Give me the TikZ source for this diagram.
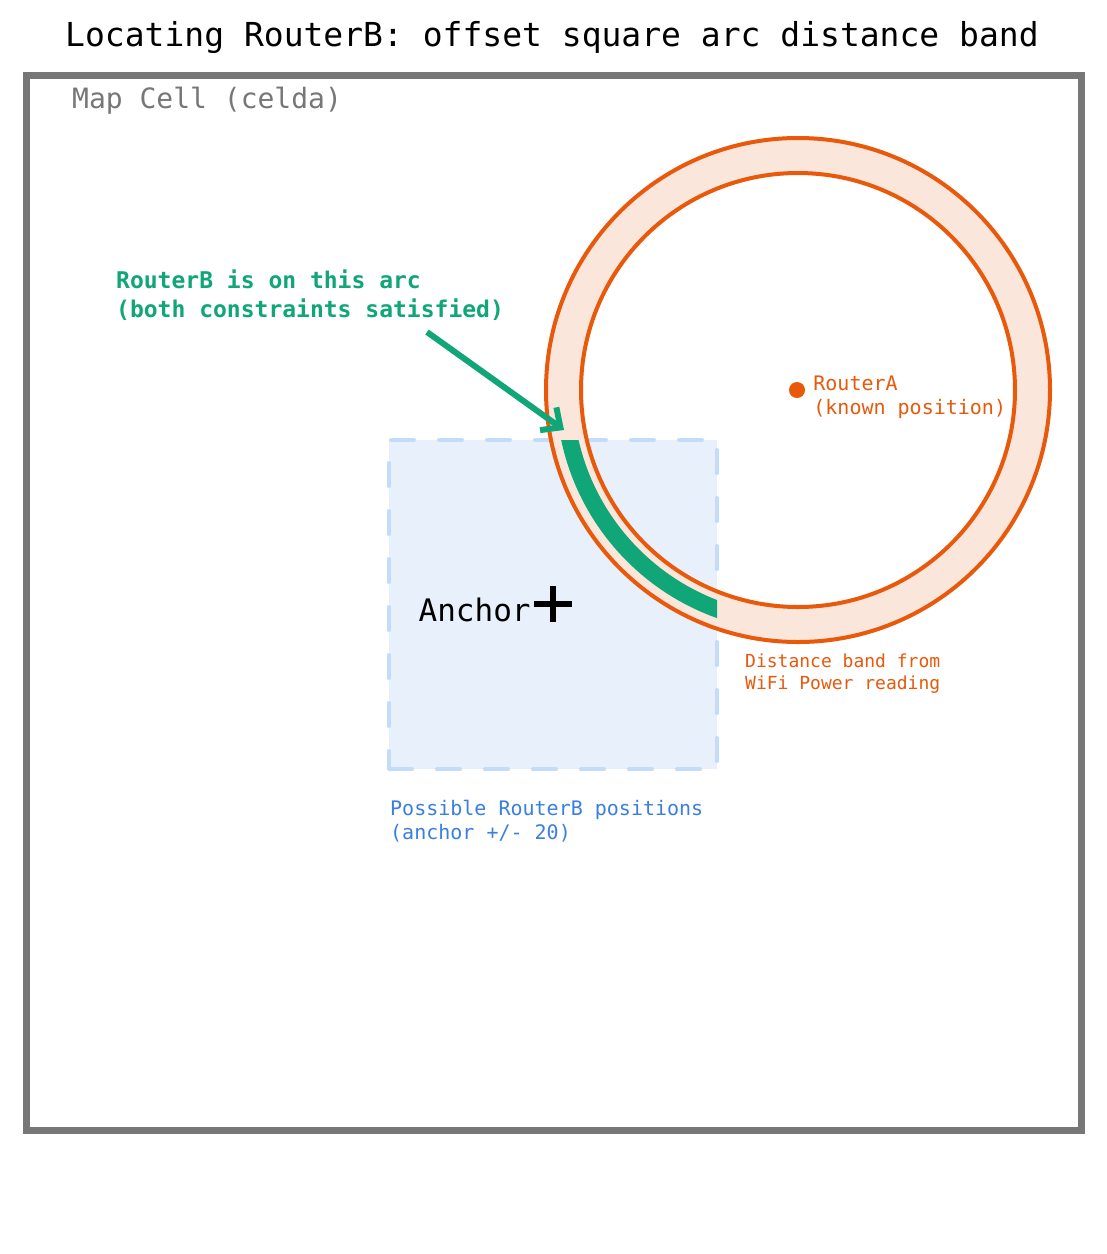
\documentclass[tikz,border=0pt]{standalone}
\usepackage{fontspec}
\setmainfont{DejaVu Sans Mono}
\usetikzlibrary{arrows.meta, positioning}
\definecolor{framegray}{HTML}{777777}
\definecolor{bandorange}{HTML}{E8590C}
\definecolor{bandfill}{HTML}{FBE6DC}
\definecolor{arcgreen}{HTML}{10A678}
\definecolor{boxfill}{HTML}{E8F1FB}
\definecolor{boxedge}{HTML}{C2DCFA}
\definecolor{boxtext}{HTML}{3A7FE0}

\begin{document}
\begin{tikzpicture}[x=1pt, y=-1pt,
  txt/.style={inner sep=0, anchor=west, align=left},
  ring/.style={draw=bandorange, line width=4pt}]
\useasboundingbox (0,0) rectangle (1107,1254);
\fill[white] (0,0) rectangle (1107,1254);

% title and cell frame
\node[inner sep=0, font=\fontsize{33}{40}\selectfont] (title) at (552,38) {Locating RouterB: offset square arc distance band};
\draw[framegray, line width=7pt] (26,75) rectangle (1081,1130);
\node[txt, text=framegray, font=\fontsize{28}{34}\selectfont] (cell) at (72,101) {Map Cell (celda)};

% square of possible positions
\node[draw=boxedge, fill=boxfill, line width=4pt, line cap=round, dash pattern=on 23pt off 25pt, minimum width=328pt, minimum height=329pt, inner sep=0, outer sep=0] (posbox) at (553,604.5) {};

% distance band round RouterA
\coordinate (ra) at (798,390);
\fill[bandfill, even odd rule] (ra) circle[radius=252pt] circle[radius=217pt];
\draw[ring] (ra) circle[radius=252pt];
\draw[ring] (ra) circle[radius=217pt];

% arc inside the square
\begin{scope}
\clip (posbox.south west) rectangle (posbox.north east);
\draw[arcgreen, line width=17pt] (ra) circle[radius=233.5pt];
\end{scope}

\node[circle, fill=bandorange, inner sep=0, minimum size=16pt] (routerA) at (797,390) {};
\node[txt, text=bandorange, font=\fontsize{20}{24}\selectfont, right=8pt of routerA, yshift=-7pt] (routerAlbl) {RouterA\\(known position)};
\node[txt, text=bandorange, font=\fontsize{18}{22}\selectfont] (bandlbl) at (745,674) {Distance band from\\WiFi Power reading};

% anchor mark
\node[inner sep=0, minimum size=0pt] (anchorpt) at (553,604) {};
\draw[black, line width=6pt] ([xshift=-19pt]anchorpt.center) -- ([xshift=19pt]anchorpt.center);
\draw[black, line width=6pt] ([yshift=-18pt]anchorpt.center) -- ([yshift=18pt]anchorpt.center);
\node[inner sep=0, anchor=east, font=\fontsize{31}{37}\selectfont, left=22pt of anchorpt, yshift=-6pt] (anchorlbl) {Anchor};
\node[txt, text=boxtext, font=\fontsize{20}{24}\selectfont] (boxlbl) at (390,821) {Possible RouterB positions\\(anchor +/- 20)};

% note and its arrow
\node[txt, text=arcgreen, font=\bfseries\fontsize{23}{29}\selectfont] (note) at (116,295.5) {RouterB is on this arc\\(both constraints satisfied)};
\coordinate (arrowtail) at (427,332);
\coordinate (arctip) at (564,430);
\draw[arcgreen, line width=6pt, -{Straight Barb[length=15pt, width=28pt]}] (arrowtail) -- (arctip);
\end{tikzpicture}
\end{document}
